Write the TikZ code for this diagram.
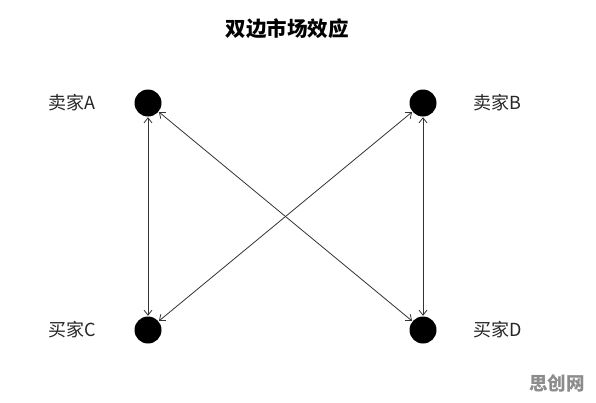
\documentclass[tikz,border=0pt]{standalone}
\usepackage{fontspec}
\setmainfont{Noto Sans CJK SC}
\usetikzlibrary{arrows.meta}
\begin{document}
\begin{tikzpicture}[x=1pt,y=-1pt,
  dot/.style={circle,fill=black,minimum size=27pt,inner sep=0pt},
  lbl/.style={font=\fontsize{18}{18}\selectfont,inner sep=0pt,text=black!85},
  link/.style={draw=black!80,line width=0.8pt,{Straight Barb[length=5pt,width=8pt]}-{Straight Barb[length=5pt,width=8pt]},shorten <=0.5pt,shorten >=0.5pt}]
\useasboundingbox[fill=white] (0,0) rectangle (596,402);
\node[font=\fontsize{20.5}{20.5}\selectfont\bfseries,inner sep=0pt] (title) at (287,29) {双边市场效应};
\node[dot] (A) at (148,103) {};
\node[dot] (B) at (423,103) {};
\node[dot] (C) at (148,330) {};
\node[dot] (D) at (423,330) {};
\node[lbl] (lA) at (72,103) {卖家A};
\node[lbl] (lB) at (497,103) {卖家B};
\node[lbl] (lC) at (72,330) {买家C};
\node[lbl] (lD) at (498,330) {买家D};
\draw[link] (A) -- (C);
\draw[link] (B) -- (D);
\draw[link] (A) -- (D);
\draw[link] (B) -- (C);
\node[font=\fontsize{18.5}{18.5}\selectfont\bfseries,text=black!45,inner sep=0pt] (wm) at (557,383) {思创网};
\end{tikzpicture}
\end{document}
